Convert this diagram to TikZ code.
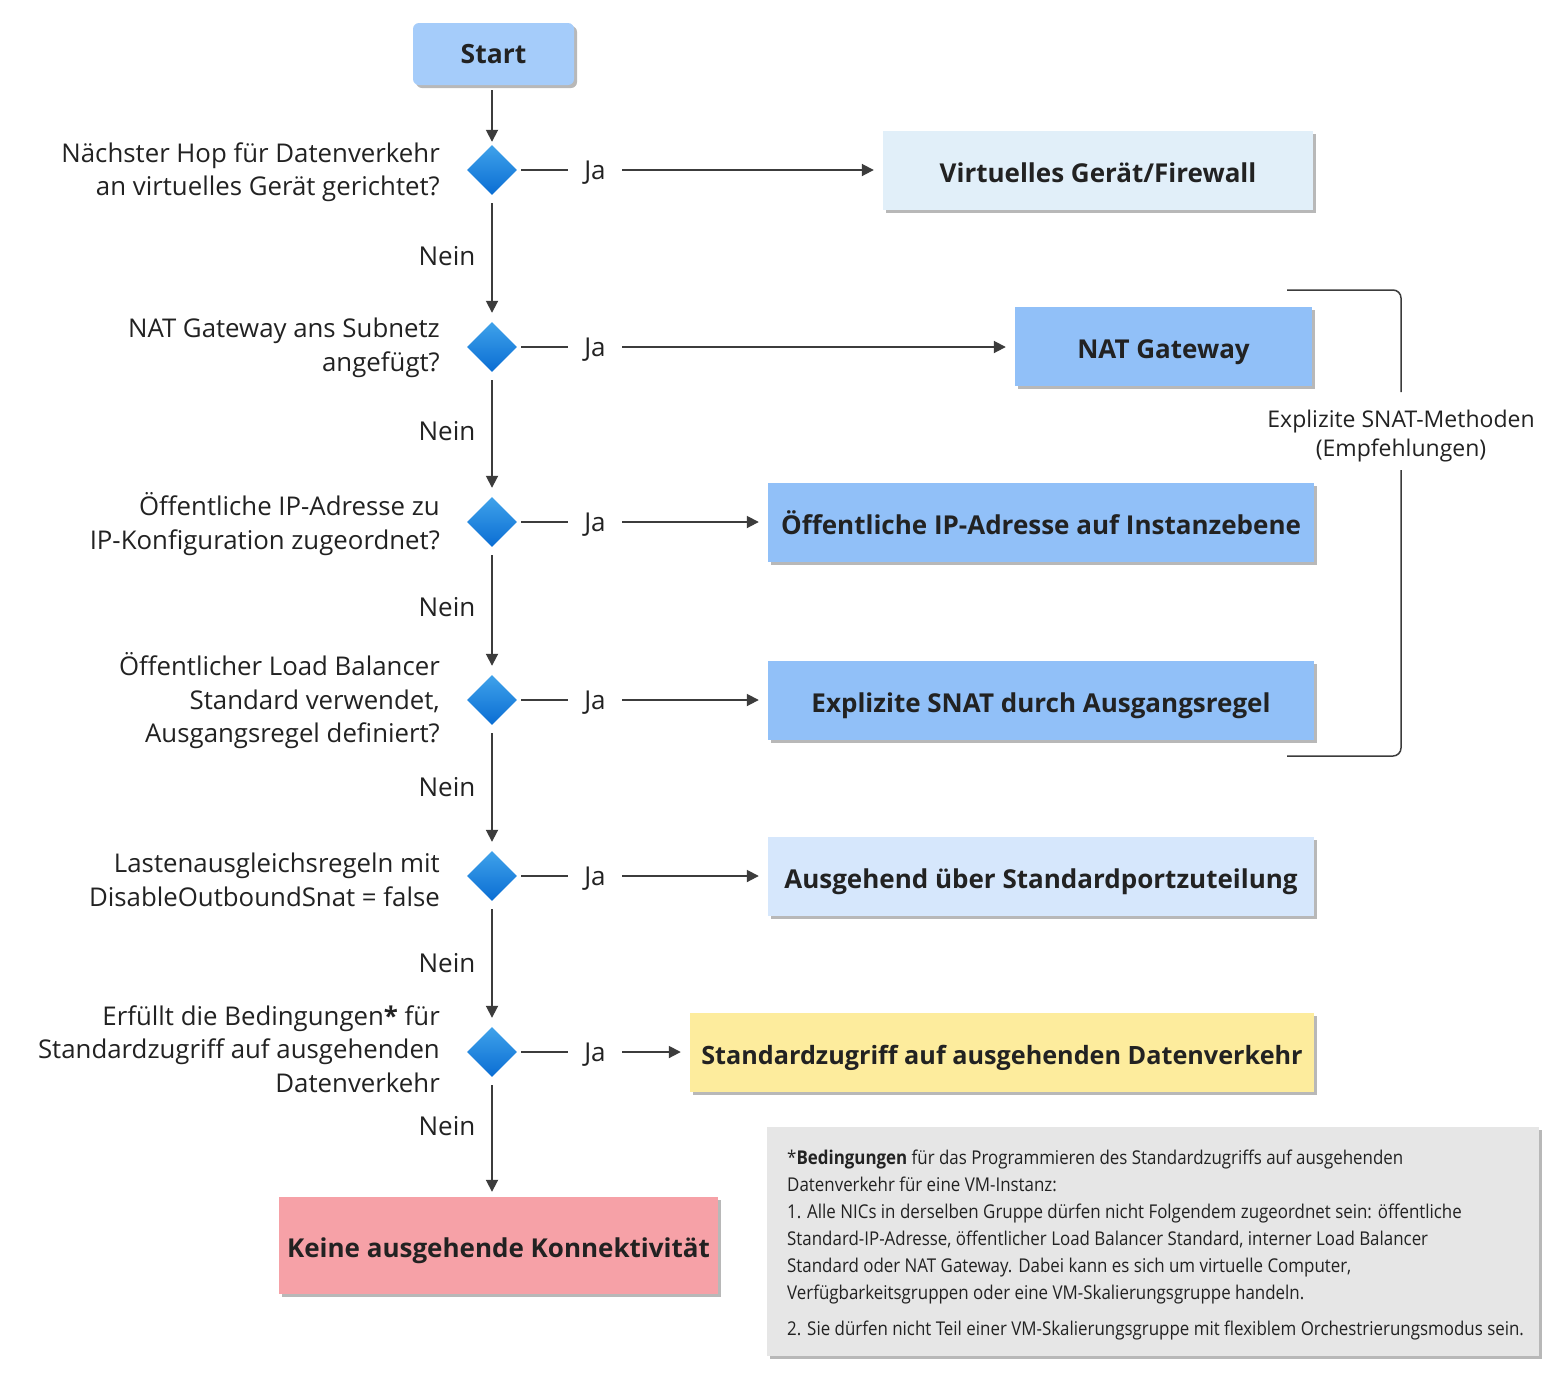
\documentclass[tikz,border=0pt]{standalone}
\usepackage{fontspec}
\setmainfont{Open Sans}
\newfontfamily\notefont[FakeStretch=0.89]{Open Sans}
\usetikzlibrary{arrows.meta,shapes.geometric,shadows}
\definecolor{txt}{HTML}{222222}
\definecolor{ln}{HTML}{3C3C3C}
\definecolor{startc}{HTML}{A5CCFA}
\definecolor{paleblue}{HTML}{E1EFF9}
\definecolor{midblue}{HTML}{91C0F8}
\definecolor{ltblue}{HTML}{D6E7FC}
\definecolor{yell}{HTML}{FDEC9D}
\definecolor{pink}{HTML}{F6A1A7}
\definecolor{notec}{HTML}{E6E6E6}
\definecolor{shad}{HTML}{B8B8B8}
\definecolor{dtop}{HTML}{3FA2EA}
\definecolor{dbot}{HTML}{0A6DD3}
\tikzset{
  boxshadow/.style={drop shadow={shadow xshift=3pt,shadow yshift=-3pt,fill=shad,opacity=1}},
  resbox/.style={rectangle,inner sep=0,boxshadow,font=\fontsize{26}{30}\selectfont\bfseries,text=txt,text height=23pt,text depth=0pt},
  dec/.style={shape=diamond,minimum width=50,minimum height=50,inner sep=0,top color=dtop,bottom color=dbot,draw=none},
  quest/.style={anchor=east,align=right,inner sep=0,font=\fontsize{25.8}{33.5}\selectfont,text=txt},
  lbl/.style={inner sep=0,font=\fontsize{26}{30}\selectfont,text=txt},
  jalbl/.style={lbl,minimum width=54,text height=19pt,text depth=0pt},
  conn/.style={draw=ln,line width=1.8pt},
  arr/.style={conn,-{Triangle[length=12pt,width=12pt]}},
}
\begin{document}
\begin{tikzpicture}[x=1pt,y=-1pt]
\path[use as bounding box,fill=white] (0,0) rectangle (1562,1382);

% start
\node[resbox,fill=startc,rounded corners=6pt,minimum width=161,minimum height=62,font=\fontsize{26.5}{30}\selectfont\bfseries,text height=18pt] (start) at (493.5,54) {Start};

% diamonds
\node[dec] (d1) at (492,170) {};
\node[dec] (d2) at (492,347) {};
\node[dec] (d3) at (492,522) {};
\node[dec] (d4) at (492,700) {};
\node[dec] (d5) at (492,876) {};
\node[dec] (d6) at (492,1052) {};

% questions
\node[quest] (q1) at (440,172) {Nächster Hop für Datenverkehr\\an virtuelles Gerät gerichtet?};
\node[quest] (q2) at (440,348) {NAT Gateway ans Subnetz\\angefügt?};
\node[quest] (q3) at (440,524) {Öffentliche IP-Adresse zu\\IP-Konfiguration zugeordnet?};
\node[quest] (q4) at (440,701) {Öffentlicher Load Balancer\\Standard verwendet,\\Ausgangsregel definiert?};
\node[quest] (q5) at (440,880) {Lastenausgleichsregeln mit\\DisableOutboundSnat = false};
\node[quest] (q6) at (440,1049) {Erfüllt die Bedingungen\textbf{*} für\\Standardzugriff auf ausgehenden\\Datenverkehr};

% result boxes
\node[resbox,fill=paleblue,minimum width=430,minimum height=79] (b1) at (1098,170.5) {Virtuelles Gerät/Firewall};
\node[resbox,fill=midblue,minimum width=297,minimum height=79] (b2) at (1163.5,346.5) {NAT Gateway};
\node[resbox,fill=midblue,minimum width=546,minimum height=79] (b3) at (1041,522.5) {Öffentliche IP-Adresse auf Instanzebene};
\node[resbox,fill=midblue,minimum width=546,minimum height=79] (b4) at (1041,700.5) {Explizite SNAT durch Ausgangsregel};
\node[resbox,fill=ltblue,minimum width=546,minimum height=79] (b5) at (1041,876.5) {Ausgehend über Standardportzuteilung};
\node[resbox,fill=yell,minimum width=624,minimum height=79,font=\fontsize{25.2}{30}\selectfont\bfseries] (b6) at (1002,1052.5) {Standardzugriff auf ausgehenden Datenverkehr};
\node[resbox,fill=pink,minimum width=439,minimum height=97] (b7) at (498.5,1245.5) {Keine ausgehende Konnektivität};

% Ja labels
\foreach \i in {1,...,6}{
  \node[jalbl,anchor=center] (ja\i) at (d\i.center -| 595,0) {Ja};
}
\foreach \i in {1,...,6}{
  \draw[conn,shorten <=4pt] (d\i.east) -- (ja\i.west |- d\i.east);
}
\foreach \i in {1,...,6}{
  \draw[arr,shorten >=9pt] (ja\i.east |- d\i.east) -- (b\i.west |- d\i.east);
}

% vertical flow
\draw[arr,shorten <=5pt,shorten >=3pt] (start.south -| d1.north) -- (d1.north);
\draw[arr,shorten <=8pt,shorten >=9pt] (d1.south) -- (d2.north);
\draw[arr,shorten <=8pt,shorten >=9pt] (d2.south) -- (d3.north);
\draw[arr,shorten <=8pt,shorten >=9pt] (d3.south) -- (d4.north);
\draw[arr,shorten <=8pt,shorten >=9pt] (d4.south) -- (d5.north);
\draw[arr,shorten <=8pt,shorten >=9pt] (d5.south) -- (d6.north);
\draw[arr,shorten <=8pt,shorten >=5pt] (d6.south) -- (d6.south |- b7.north);

% Nein labels
\node[lbl] (n1) at (447,256) {Nein};
\node[lbl] (n2) at (447,431) {Nein};
\node[lbl] (n3) at (447,607) {Nein};
\node[lbl] (n4) at (447,787) {Nein};
\node[lbl] (n5) at (447,963) {Nein};
\node[lbl] (n6) at (447,1126) {Nein};

% bracket
\node[inner sep=0,align=center,font=\fontsize{23}{29}\selectfont,text=txt] (snat) at (1401,436) {Explizite SNAT-Methoden\\(Empfehlungen)};
\coordinate (bt) at (1287,290);
\coordinate (bb) at (1287,756);
\coordinate (bu) at (1401,392);
\coordinate (bl) at (1401,470);
\draw[draw=ln,line width=1.5pt,rounded corners=8pt] (bt) -- (bt -| bu) -- (bu);
\draw[draw=ln,line width=1.5pt,rounded corners=8pt] (bl) -- (bl |- bb) -- (bb);

% note
\node[rectangle,fill=notec,boxshadow,minimum width=772,minimum height=229,inner sep=0] (note) at (1153,1241.5) {};
\node[anchor=north west,inner sep=0,align=left,text=txt,font=\notefont\fontsize{19}{27}\selectfont] (notetext) at (787,1150) {*\textbf{Bedingungen} für das Programmieren des Standardzugriffs auf ausgehenden\\
Datenverkehr für eine VM-Instanz:\\
1. Alle NICs in derselben Gruppe dürfen nicht Folgendem zugeordnet sein: öffentliche\\
Standard-IP-Adresse, öffentlicher Load Balancer Standard, interner Load Balancer\\
Standard oder NAT Gateway. Dabei kann es sich um virtuelle Computer,\\
Verfügbarkeitsgruppen oder eine VM-Skalierungsgruppe handeln.\\[9pt]
2. Sie dürfen nicht Teil einer VM-Skalierungsgruppe mit flexiblem Orchestrierungsmodus sein.};
\end{tikzpicture}
\end{document}
